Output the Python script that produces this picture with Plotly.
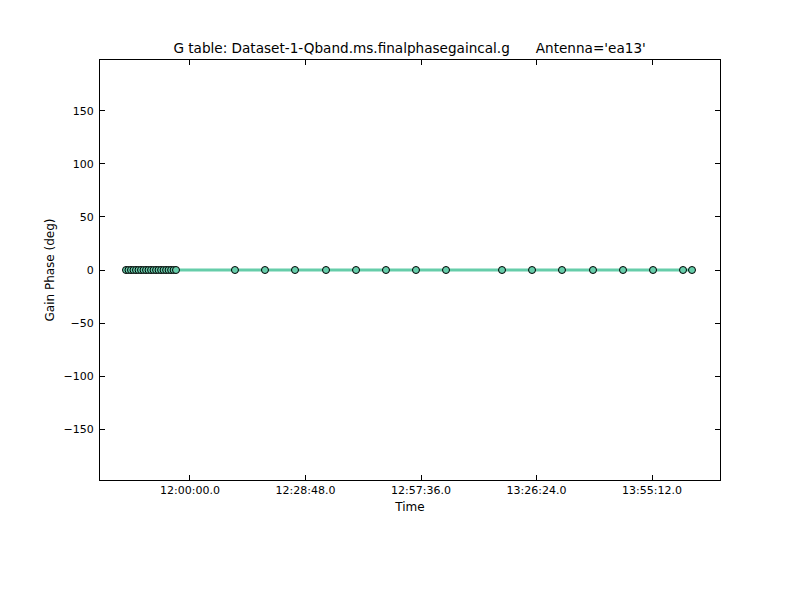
import plotly.graph_objects as go

# calibration solution times (same day) and gain phase in degrees
times = [
    "11:44:03", "11:44:40", "11:45:18", "11:45:55", "11:46:33", "11:47:10", "11:47:48",
    "11:48:25", "11:49:03", "11:49:40", "11:50:18", "11:50:55", "11:51:33", "11:52:10",
    "11:52:48", "11:53:25", "11:54:03", "11:54:40", "11:55:18", "11:55:55", "11:56:31",
    "12:11:13", "12:18:42", "12:26:11", "12:33:55", "12:41:24", "12:48:52", "12:56:21",
    "13:03:50", "13:17:48", "13:25:17", "13:32:45", "13:40:29", "13:47:58", "13:55:27",
    "14:02:56", "14:05:10",
]
phase = [0.0] * len(times)

tick_vals = ["12:00:00", "12:28:48", "12:57:36", "13:26:24", "13:55:12"]
tick_text = ["12:00:00.0", "12:28:48.0", "12:57:36.0", "13:26:24.0", "13:55:12.0"]

day = "2013-01-01 "
x = [day + t for t in times]

fig = go.Figure()
fig.add_trace(go.Scatter(
    x=x, y=phase, mode="lines+markers",
    line=dict(color="#66CDAA", width=3),
    marker=dict(symbol="circle", size=7, color="#66CDAA",
                line=dict(color="black", width=1)),
    showlegend=False,
))

axis_common = dict(
    showline=True, linecolor="black", linewidth=1, mirror="ticks",
    ticks="inside", ticklen=5, tickcolor="black", showgrid=False,
    zeroline=False, tickfont=dict(size=11, color="black"),
)

# the page body adds an 8px offset, so margins are shifted to compensate
fig.update_layout(
    width=800, height=600,
    margin=dict(l=92, r=88, t=52, b=128),
    paper_bgcolor="white", plot_bgcolor="white",
    font=dict(family="DejaVu Sans", color="black"),
    title=dict(
        text="G table: Dataset-1-Qband.ms.finalphasegaincal.g      Antenna='ea13'",
        x=0.502, xanchor="center", y=0.933, yanchor="middle",
        font=dict(size=13.6),
    ),
    xaxis=dict(
        axis_common,
        type="date",
        range=[day + "11:37:34", day + "14:12:09"],
        tickvals=[day + t for t in tick_vals], ticktext=tick_text,
        title=dict(text="Time", font=dict(size=12), standoff=6),
    ),
    yaxis=dict(
        axis_common,
        range=[-198, 198],
        tickvals=[-150, -100, -50, 0, 50, 100, 150],
        ticklabelstandoff=3,
        title=dict(text="Gain Phase (deg)", font=dict(size=12), standoff=6),
    ),
)

fig.write_html("out.html")
